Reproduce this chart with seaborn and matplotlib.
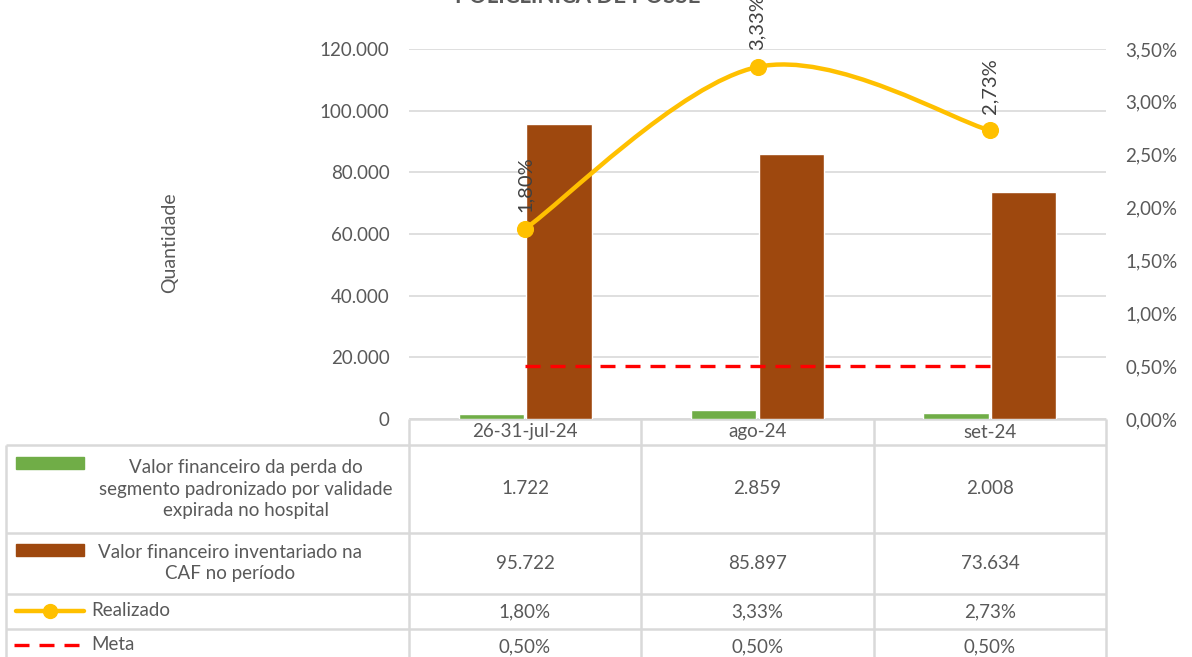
import numpy as np
import pandas as pd
import matplotlib
matplotlib.use("Agg")
import matplotlib.pyplot as plt
from matplotlib.path import Path
from matplotlib.patches import PathPatch, Rectangle
from matplotlib.lines import Line2D
from matplotlib.ticker import FuncFormatter
import seaborn as sns

# dados
periodos = ["26-31-jul-24", "ago-24", "set-24"]
perda = [1722, 2859, 2008]
inventario = [95722, 85897, 73634]
realizado = [1.80, 3.33, 2.73]
meta = [0.50, 0.50, 0.50]
serie_perda = "Valor financeiro da perda do\nsegmento padronizado por validade\nexpirada no hospital"
serie_inv = "Valor financeiro inventariado na\nCAF no período"
titulo = "POLICLÍNICA DE POSSE"

VERDE = "#70AD47"
MARROM = "#9E480E"
AMARELO = "#FFC000"
VERMELHO = "#FF0000"
TEXTO = "#595959"
GRADE = "#D9D9D9"

sns.set_theme(style="white")
plt.rcParams["font.family"] = ["Lato", "DejaVu Sans"]
plt.rcParams["text.color"] = TEXTO


def milhar(v):
    return f"{int(round(v)):,}".replace(",", ".")


def pct(v):
    return f"{v:.2f}%".replace(".", ",")


W, H = 1192, 657
fig = plt.figure(figsize=(W / 100, H / 100), dpi=100)
fig.patch.set_facecolor("white")

# table layer in pixel coords
tab = fig.add_axes([0, 0, 1, 1], zorder=0)
tab.set_xlim(0, W)
tab.set_ylim(H, 0)
tab.axis("off")

# main axis
ax = fig.add_axes([409 / W, 1 - 419 / H, 697 / W, 370 / H], zorder=1)
ax.patch.set_alpha(0)

df = pd.DataFrame({
    "periodo": periodos * 2,
    "serie": ["perda"] * 3 + ["inventario"] * 3,
    "valor": perda + inventario,
})
sns.barplot(data=df, x="periodo", y="valor", hue="serie",
            hue_order=["perda", "inventario"], palette=[VERDE, MARROM],
            width=0.58, gap=0.03, saturation=1, legend=False, ax=ax, zorder=3)

ax.set_ylim(0, 120000)
ax.set_yticks(np.arange(0, 120001, 20000))
ax.yaxis.set_major_formatter(FuncFormatter(lambda v, p: milhar(v)))
ax.set_xticks([])
ax.set_xlim(-0.5, 2.5)
ax.set_xlabel("")
ax.set_ylabel("Quantidade", fontsize=14, color=TEXTO)
ax.yaxis.set_label_coords((178 - 409) / 697, (419 - 243) / 370)
ax.grid(axis="y", color=GRADE, lw=1.2)
ax.set_axisbelow(True)
ax.tick_params(axis="y", length=0, pad=14, labelsize=13.5, labelcolor=TEXTO)
for s in ax.spines.values():
    s.set_visible(False)

# secondary axis
ax2 = ax.twinx()
ax2.set_ylim(0, 3.5)
ax2.set_yticks(np.arange(0, 3.51, 0.5))
ax2.yaxis.set_major_formatter(FuncFormatter(lambda v, p: pct(v)))
ax2.tick_params(axis="y", length=0, pad=14, labelsize=13.5, labelcolor=TEXTO)
ax2.grid(False)
for s in ax2.spines.values():
    s.set_visible(False)

# meta
sns.lineplot(x=np.arange(len(meta)), y=meta, ax=ax2, color=VERMELHO,
             lw=2.4, dashes=False, zorder=4).lines[-1].set_dashes((4.5, 3))

# realizado - smoothed curve (bezier as excel does)
pts = np.column_stack([np.arange(len(realizado)), realizado]).astype(float)
ext = np.vstack([pts[0], pts, pts[-1]])
verts = [tuple(pts[0])]
codes = [Path.MOVETO]
for i in range(len(pts) - 1):
    p0, p1, p2, p3 = ext[i], ext[i + 1], ext[i + 2], ext[i + 3]
    c1 = p1 + (p2 - p0) / 6
    c2 = p2 - (p3 - p1) / 6
    verts += [tuple(c1), tuple(c2), tuple(p2)]
    codes += [Path.CURVE4] * 3
ax2.add_patch(PathPatch(Path(verts, codes), fc="none", ec=AMARELO, lw=3.2,
                        capstyle="round", zorder=5))
sns.scatterplot(x=np.arange(len(realizado)), y=realizado, ax=ax2, color=AMARELO,
                s=130, edgecolor=AMARELO, zorder=6)
for i, v in enumerate(realizado):
    ax2.annotate(pct(v), (i, v), xytext=(0, 12), textcoords="offset points",
                 rotation=90, ha="center", va="bottom", fontsize=14.5,
                 color="#404040", annotation_clip=False)
ax2.set_xlim(-0.5, 2.5)

# title (mostly cut at the top in the original)
fig.text(578 / W, 1 - 3 / H, titulo, ha="center", va="baseline",
         fontsize=16, fontweight="bold", color=TEXTO)

# data table
col_x = [409, 641, 874, 1106]
row_y = [419, 445, 533, 594, 629, 664]
lkw = dict(color=GRADE, lw=1.8, solid_capstyle="butt")
tab.plot([col_x[0], col_x[-1]], [row_y[0]] * 2, **lkw)
for y in row_y[1:-1]:
    tab.plot([6, col_x[-1]], [y, y], **lkw)
tab.plot([6, 6], [row_y[1], H], **lkw)
for x in col_x:
    tab.plot([x, x], [row_y[0], H], **lkw)

centros = [(col_x[i] + col_x[i + 1]) / 2 for i in range(3)]
linhas = [
    [milhar(v) for v in perda],
    [milhar(v) for v in inventario],
    [pct(v) for v in realizado],
    [pct(v) for v in meta],
]
fs = 13.5
for j, p in enumerate(periodos):
    tab.text(centros[j], (row_y[0] + row_y[1]) / 2, p, ha="center", va="center", fontsize=fs)
for r, vals in enumerate(linhas):
    yc = (row_y[r + 1] + row_y[r + 2]) / 2
    for j, t in enumerate(vals):
        tab.text(centros[j], yc, t, ha="center", va="center", fontsize=fs)

# legend keys inside table
tab.add_patch(Rectangle((16, 457), 68, 12, color=VERDE))
tab.text(246, 489, serie_perda, ha="center", va="center", fontsize=fs, linespacing=1.3)
tab.add_patch(Rectangle((16, 544), 68, 12, color=MARROM))
tab.text(230, 563, serie_inv, ha="center", va="center", fontsize=fs, linespacing=1.3)
tab.add_line(Line2D([16, 84], [611, 611], color=AMARELO, lw=3.2, solid_capstyle="round"))
tab.plot([50], [611], "o", color=AMARELO, ms=10)
tab.text(91, 611, "Realizado", ha="left", va="center", fontsize=fs)
tab.add_line(Line2D([14, 86], [645, 645], color=VERMELHO, lw=2.4, dashes=(4.5, 3)))
tab.text(91, 645, "Meta", ha="left", va="center", fontsize=fs)

fig.savefig("out.png", dpi=100)
